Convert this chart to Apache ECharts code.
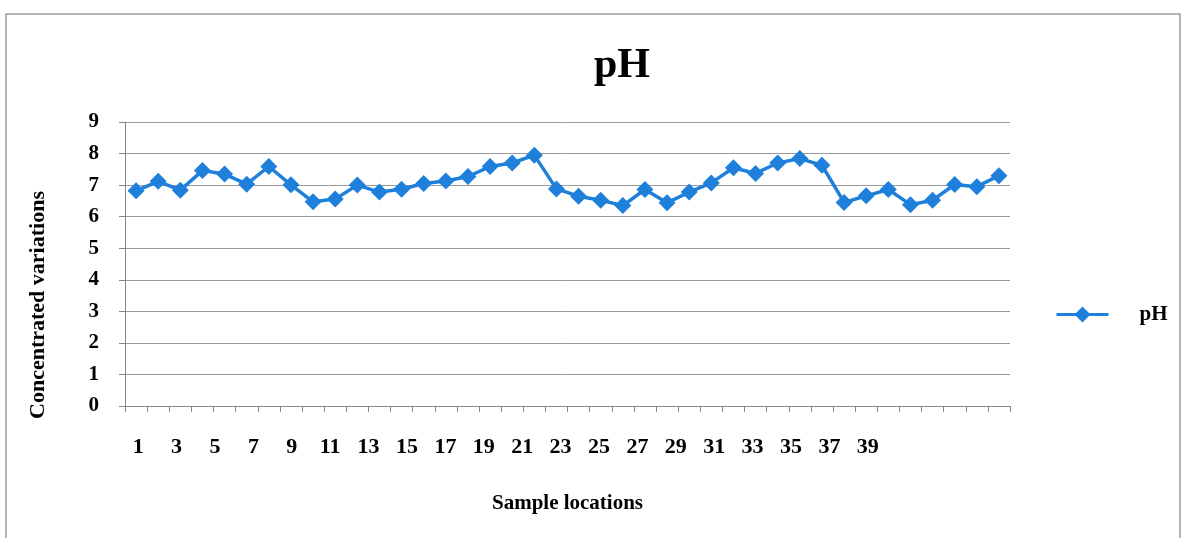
<!DOCTYPE html>
<html>
<head>
<meta charset="utf-8">
<title>pH</title>
<script src="https://cdn.jsdelivr.net/npm/echarts@6/dist/echarts.min.js"></script>
<style>
  html, body { margin: 0; padding: 0; background: #fff; }
  #chart { width: 1193px; height: 538px; }
</style>
</head>
<body>
<div id="chart"></div>
<script>
// sample locations 1..40
const locations = []
for (let i = 1; i <= 40; i++) locations.push(String(i))

// labels printed under the axis (every other location, up to 39)
const tickLabels = ['1', '3', '5', '7', '9', '11', '13', '15', '17', '19',
  '21', '23', '25', '27', '29', '31', '33', '35', '37', '39']

const phValues = [6.82, 7.12, 6.84, 7.46, 7.35, 7.03, 7.59, 7.01, 6.47, 6.56,
  7.0, 6.78, 6.87, 7.05, 7.13, 7.27, 7.59, 7.70, 7.95, 6.88,
  6.65, 6.52, 6.35, 6.86, 6.44, 6.78, 7.07, 7.55, 7.37, 7.70,
  7.84, 7.63, 6.45, 6.66, 6.86, 6.38, 6.52, 7.02, 6.95, 7.30]

const serif = '"Liberation Serif", "Times New Roman", serif'
const blue = '#1f80dc'

const chart = echarts.init(document.getElementById('chart'))
chart.setOption({
  animation: false,
  title: {
    text: 'pH',
    left: 617,
    top: 40,
    textAlign: 'center',
    textStyle: { fontFamily: serif, fontWeight: 'bold', fontSize: 42, color: '#000' }
  },
  legend: {
    data: ['pH'],
    left: 1050,
    top: 299,
    itemWidth: 52,
    itemHeight: 20,
    lineStyle: { width: 3 },
    textStyle: { fontFamily: serif, fontWeight: 'bold', fontSize: 21, color: '#000', padding: [0, 0, 0, 26] }
  },
  graphic: [
    {
      type: 'rect',
      shape: { x: 6, y: 14, width: 1174, height: 540 },
      style: { fill: 'none', stroke: '#9a9a9a', lineWidth: 1.5 },
      silent: true
    },
    {
      type: 'text',
      x: 38,
      y: 305,
      rotation: Math.PI / 2,
      style: {
        text: 'Concentrated variations',
        fontFamily: serif,
        fontWeight: 'bold',
        fontSize: 22,
        fill: '#000',
        textAlign: 'center',
        textVerticalAlign: 'middle'
      }
    }
  ],
  grid: [
    { left: 125, right: 183, top: 122, bottom: 132 },
    { left: 119, width: 768, top: 122, bottom: 132 }
  ],
  xAxis: [
    {
      type: 'category',
      gridIndex: 0,
      data: locations,
      boundaryGap: true,
      name: 'Sample locations',
      nameLocation: 'middle',
      nameGap: 87,
      nameTextStyle: { fontFamily: serif, fontWeight: 'bold', fontSize: 21, color: '#000' },
      axisLine: { lineStyle: { color: '#888', width: 1 } },
      axisTick: { show: true, length: 6, interval: 0, lineStyle: { color: '#888' } },
      axisLabel: { show: false },
      splitLine: { show: false }
    },
    {
      type: 'category',
      gridIndex: 1,
      data: tickLabels,
      boundaryGap: true,
      axisLine: { show: false },
      axisTick: { show: false },
      axisLabel: {
        interval: 0,
        margin: 30,
        fontFamily: serif,
        fontWeight: 'bold',
        fontSize: 22,
        color: '#000'
      },
      splitLine: { show: false }
    }
  ],
  yAxis: [
    {
      type: 'value',
      gridIndex: 0,
      min: 0,
      max: 9,
      interval: 1,
      axisLine: { show: true, lineStyle: { color: '#888', width: 1 } },
      axisTick: { show: true, length: 6, lineStyle: { color: '#888' } },
      axisLabel: {
        margin: 26,
        fontFamily: serif,
        fontWeight: 'bold',
        fontSize: 21,
        color: '#000'
      },
      splitLine: { lineStyle: { color: '#9a9a9a', width: 1 } }
    },
    {
      type: 'value',
      gridIndex: 1,
      min: 0,
      max: 9,
      show: false
    }
  ],
  series: [
    {
      name: 'pH',
      type: 'line',
      xAxisIndex: 0,
      yAxisIndex: 0,
      data: phValues,
      symbol: 'diamond',
      symbolSize: 17,
      showSymbol: true,
      showAllSymbol: true,
      itemStyle: { color: blue },
      lineStyle: { color: blue, width: 3.5 }
    }
  ]
})
</script>
</body>
</html>
